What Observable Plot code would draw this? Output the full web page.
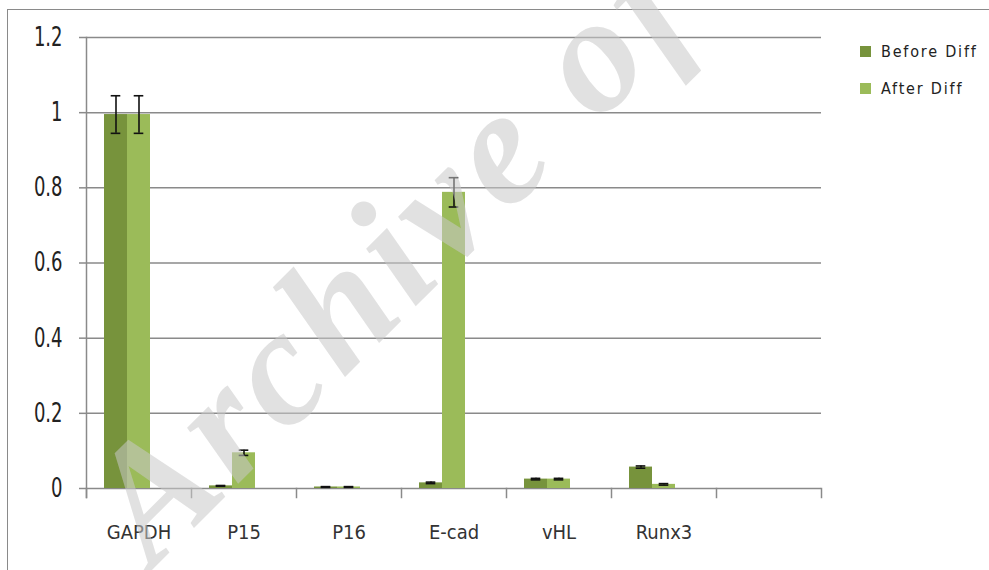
<!DOCTYPE html>
<html>
<head>
<meta charset="utf-8">
<script src="https://cdn.jsdelivr.net/npm/d3@7"></script>
<script src="https://cdn.jsdelivr.net/npm/@observablehq/plot@0.6"></script>
<style>
  body { margin: 0; background: #fff; }
  #wrap { position: relative; width: 989px; height: 570px; overflow: hidden; background: #fff; }
  #border { position: absolute; left: 7px; top: 9px; width: 1200px; height: 800px;
            border-left: 1.5px solid #8a8a8a; border-top: 1.5px solid #8a8a8a; }
  #chart { position: absolute; left: 0; top: 0; }
  #watermark { position: absolute; left: 0; top: 0; pointer-events: none; }
  #legend { position: absolute; left: 860px; top: 41px; font-family: "DejaVu Sans Condensed", "DejaVu Sans", sans-serif;
            font-size: 16px; letter-spacing: 1.8px; color: #222; }
  #legend .row { display: flex; align-items: center; height: 20px; margin-bottom: 17px; white-space: nowrap; }
  #legend .sw { display: inline-block; width: 11px; height: 11px; margin-right: 10px; }
</style>
</head>
<body>
<div id="wrap">
  <div id="border"></div>
  <div id="chart"></div>
  <svg id="watermark" width="989" height="570"></svg>
  <div id="legend"></div>
</div>
<script>
// ---- data ----
const genes = ["GAPDH", "P15", "P16", "E-cad", "vHL", "Runx3"];
const slots = [...genes, ""];            // the reference keeps a 7th empty category
const seriesNames = ["Before Diff", "After Diff"];
const beforeValues = [0.995, 0.007, 0.004, 0.015, 0.025, 0.057];
const beforeErrors = [0.05, 0.001, 0.001, 0.002, 0.002, 0.003];
const afterValues  = [0.995, 0.095, 0.004, 0.788, 0.025, 0.011];
const afterErrors  = [0.05, 0.007, 0.001, 0.039, 0.002, 0.002];
const yTicks = [0, 0.2, 0.4, 0.6, 0.8, 1, 1.2];
const seriesColors = ["#77933C", "#9BBB59"];
const watermarkText = "Archive of";

// ---- tables built from the arrays ----
const rows = [];
genes.forEach((g, i) => {
  rows.push({gene: g, series: seriesNames[0], value: beforeValues[i], error: beforeErrors[i]});
  rows.push({gene: g, series: seriesNames[1], value: afterValues[i], error: afterErrors[i]});
});
const gridRows = slots.flatMap(s => yTicks.map(t => ({slot: s, tick: t})));

const W = 989, H = 570, mL = 85, mR = 167, mT = 37, mB = 82;
const gridColor = "#8a8a8a";

const chart = Plot.plot({
  width: W, height: H,
  marginLeft: mL, marginRight: mR, marginTop: mT, marginBottom: mB,
  style: {background: "transparent", overflow: "visible"},
  fx: {domain: slots, padding: 0, label: null},
  x: {domain: [...seriesNames, "_"], paddingInner: 0, paddingOuter: 0.75, axis: null},
  y: {domain: [0, 1.2], label: null},
  color: {domain: seriesNames, range: seriesColors},
  marks: [
    Plot.ruleY(gridRows, {fx: "slot", y: "tick", stroke: gridColor, strokeWidth: 1.5}),
    // y axis line (left facet only) and category boundary ticks below the axis
    Plot.frame({anchor: "left", stroke: gridColor, strokeWidth: 1.5, insetBottom: -9, facetAnchor: "left"}),
    Plot.frame({anchor: "left", stroke: gridColor, strokeWidth: 1.5, insetTop: H - mT - mB, insetBottom: -9}),
    Plot.frame({anchor: "right", stroke: gridColor, strokeWidth: 1.5, insetTop: H - mT - mB, insetBottom: -9, facetAnchor: "right"}),
    Plot.barY(rows, {fx: "gene", x: "series", y: "value", fill: "series"}),
    Plot.ruleX(rows, {fx: "gene", x: "series", y1: d => d.value - d.error, y2: d => d.value + d.error, stroke: "#111", strokeWidth: 1.6}),
    Plot.tickY(rows, {fx: "gene", x: "series", y: d => d.value + d.error, stroke: "#111", strokeWidth: 1.6, insetLeft: 6.7, insetRight: 6.7}),
    Plot.tickY(rows, {fx: "gene", x: "series", y: d => d.value - d.error, stroke: "#111", strokeWidth: 1.6, insetLeft: 6.7, insetRight: 6.7}),
    Plot.axisY({ticks: yTicks, tickFormat: d => String(d), tickSize: 7, tickPadding: 17, stroke: gridColor, strokeWidth: 1.5,
      fill: "#222", fontSize: 26, fontFamily: "'DejaVu Sans Condensed', 'DejaVu Sans', sans-serif", label: null}),
    Plot.axisFx({anchor: "bottom", tickSize: 0, tickPadding: 36, fill: "#333", fontSize: 20,
      fontFamily: "'DejaVu Sans Condensed', 'DejaVu Sans', sans-serif", label: null})
  ]
});
document.getElementById("chart").appendChild(chart);

// narrow the y tick labels like the reference's condensed digits
d3.select(chart).selectAll('g[aria-label="y-axis tick label"] text').each(function () {
  const t = this.getAttribute("transform") || "";
  this.setAttribute("transform", t + " scale(0.77,1)");
});

// ---- legend ----
const legend = d3.select("#legend");
seriesNames.forEach((s, i) => {
  const r = legend.append("div").attr("class", "row");
  r.append("span").attr("class", "sw").style("background", seriesColors[i]);
  r.append("span").text(s);
});

// ---- watermark ----
d3.select("#watermark").append("text")
  .attr("x", 153).attr("y", 569)
  .attr("transform", "rotate(-45 153 569)")
  .attr("font-family", "'Liberation Serif', 'DejaVu Serif', serif")
  .attr("font-weight", "bold").attr("font-style", "italic")
  .attr("font-size", 165)
  .attr("letter-spacing", 7)
  .attr("fill", "#c8c8c8").attr("fill-opacity", 0.55)
  .text(watermarkText);
</script>
</body>
</html>
